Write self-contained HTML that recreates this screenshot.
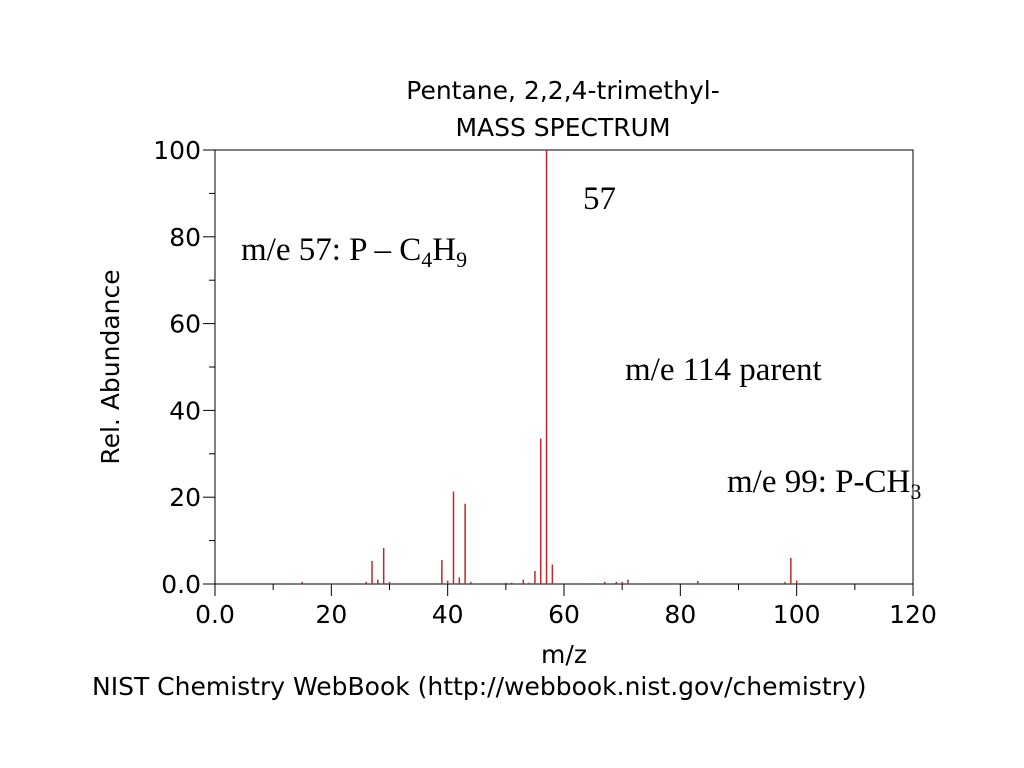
<!DOCTYPE html>
<html><head><meta charset="utf-8"><style>
body{margin:0;background:#fff}
svg{display:block}
.s{font-family:"DejaVu Sans","Liberation Sans",sans-serif;font-size:25px;fill:#000}
.r{font-family:"Liberation Serif",serif;font-size:33px;fill:#000}
</style></head><body>
<svg width="1024" height="768" id="c">
<text class="s" x="563" y="99" text-anchor="middle">Pentane, 2,2,4-trimethyl-</text>
<text class="s" x="563" y="136" text-anchor="middle">MASS SPECTRUM</text>
<rect x="215" y="150" width="698" height="434" fill="none" stroke="#000" stroke-width="1"/>
<g id="ticks"></g>
<g id="bars"></g>
<text class="s" x="564" y="663" text-anchor="middle">m/z</text>
<text class="s" transform="translate(119,367) rotate(-90)" text-anchor="middle">Rel. Abundance</text>
<text class="s" x="92" y="695">NIST Chemistry WebBook (http://webbook.nist.gov/chemistry)</text>
<text class="r" x="583" y="209">57</text>
<text class="r" x="241" y="260">m/e 57: P – C<tspan font-size="22" dy="7">4</tspan><tspan dy="-7">H</tspan><tspan font-size="22" dy="7">9</tspan></text>
<text class="r" x="625" y="380">m/e 114 parent</text>
<text class="r" x="727" y="492">m/e 99: P-CH<tspan font-size="22" dy="7">3</tspan></text>
</svg>
<script>
const mz=[15,26,27,28,29,30,39,40,41,42,43,44,50,51,53,54,55,56,57,58,65,67,69,70,71,83,98,99,100];
const abundance=[0.5,0.5,5.3,1,8.3,0.5,5.5,0.8,21.3,1.5,18.5,0.5,0.3,0.3,1,0.3,3,33.5,100,4.5,0.2,0.5,0.5,0.5,1,0.7,0.5,6,0.8];
const xTicks=[0,20,40,60,80,100,120];
const xTickLabels=["0.0","20","40","60","80","100","120"];
const yTicks=[0,20,40,60,80,100];
const yTickLabels=["0.0","20","40","60","80","100"];
const NS="http://www.w3.org/2000/svg";
const X=v=>215+v*698/120, Y=v=>584-v*434/100;
function mk(t,a,p){const e=document.createElementNS(NS,t);for(const k in a)e.setAttribute(k,a[k]);p.appendChild(e);return e;}
const tg=document.getElementById('ticks'), bg=document.getElementById('bars');
for(let v=0;v<=120;v+=10){const maj=v%20===0;
 const l=mk('line',{x1:X(v),x2:X(v),y1:584,y2:584+(maj?12:6),stroke:'#000'},tg);
 
 }
xTicks.forEach((v,i)=>{const t=mk('text',{x:X(v),y:623,'text-anchor':'middle',class:'s'},tg);t.textContent=xTickLabels[i];
 
 });
for(let v=0;v<=100;v+=10){const maj=v%20===0;
 const l=mk('line',{x1:215-(maj?12:6),x2:215,y1:Y(v),y2:Y(v),stroke:'#000'},tg);
 
 }
yTicks.forEach((v,i)=>{const t=mk('text',{x:201,y:Y(v)+9,'text-anchor':'end',class:'s'},tg);t.textContent=yTickLabels[i];
 
 });
mz.forEach((m,i)=>{const l=mk('line',{x1:X(m),x2:X(m),y1:584,y2:Y(abundance[i]),stroke:'#c0282c','stroke-width':1.5},bg);
 
 });
</script>
</body></html>
